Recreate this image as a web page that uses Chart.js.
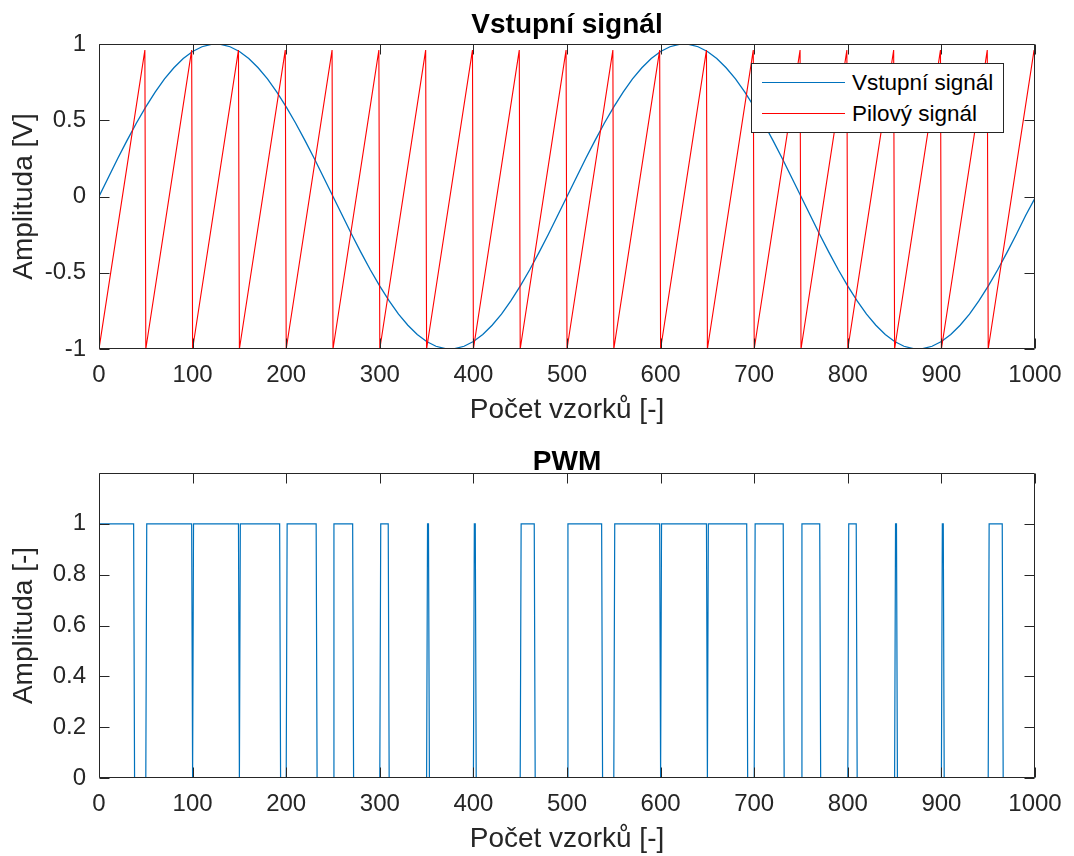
<!DOCTYPE html>
<html>
<head>
<meta charset="utf-8">
<script src="https://cdn.jsdelivr.net/npm/chart.js@4.4.1/dist/chart.umd.min.js"></script>
<style>
  html, body { margin:0; padding:0; background:#fff; overflow:hidden; width:1074px; height:856px; }
  #c1 { position:absolute; left:0; top:0; }
  #c2 { position:absolute; left:0; top:432px; }
  #legend { position:absolute; left:751px; top:63px; width:253px; height:70px; box-sizing:border-box;
            border:1px solid #262626; background:#fff; font-family:'Liberation Sans', Arial, sans-serif; font-size:22.5px; color:#000; }
  .row { position:absolute; left:0; height:30px; line-height:30px; width:100%; }
  .sw { position:absolute; left:10px; top:14px; width:83px; height:0; border-top-style:solid; border-top-width:1.5px; }
  .lbl { position:absolute; left:100px; top:0; white-space:nowrap; }
</style>
</head>
<body>
<canvas id="c1" width="1074" height="440"></canvas>
<canvas id="c2" width="1074" height="424"></canvas>
<div id="legend">
  <div class="row" style="top:4px"><div class="sw" style="border-top-color:#0072BD"></div><span class="lbl">Vstupní signál</span></div>
  <div class="row" style="top:35px"><div class="sw" style="border-top-color:#FF0000"></div><span class="lbl">Pilový signál</span></div>
</div>
<script>
// ---- data ----
const xTicks = [0, 100, 200, 300, 400, 500, 600, 700, 800, 900, 1000];
const yTicksTop = [-1, -0.5, 0, 0.5, 1];
const yTicksBottom = [0, 0.2, 0.4, 0.6, 0.8, 1];

const sineX = [0,10,20,30,40,50,60,70,80,90,100,110,120,130,140,150,160,170,180,190,200,210,220,230,240,250,
  260,270,280,290,300,310,320,330,340,350,360,370,380,390,400,410,420,430,440,450,460,470,480,490,500,
  510,520,530,540,550,560,570,580,590,600,610,620,630,640,650,660,670,680,690,700,710,720,730,740,750,
  760,770,780,790,800,810,820,830,840,850,860,870,880,890,900,910,920,930,940,950,960,970,980,990,1000];
const sineY = [0,0.125,0.249,0.368,0.482,0.588,0.685,0.771,0.844,0.905,0.951,0.982,0.998,0.998,0.982,0.951,0.905,0.844,0.771,0.685,0.588,0.482,0.368,0.249,0.125,0,
  -0.125,-0.249,-0.368,-0.482,-0.588,-0.685,-0.771,-0.844,-0.905,-0.951,-0.982,-0.998,-0.998,-0.982,-0.951,-0.905,-0.844,-0.771,-0.685,-0.588,-0.482,-0.368,-0.249,-0.125,0,
  0.125,0.249,0.368,0.482,0.588,0.685,0.771,0.844,0.905,0.951,0.982,0.998,0.998,0.982,0.951,0.905,0.844,0.771,0.685,0.588,0.482,0.368,0.249,0.125,0,
  -0.125,-0.249,-0.368,-0.482,-0.588,-0.685,-0.771,-0.844,-0.905,-0.951,-0.982,-0.998,-0.998,-0.982,-0.951,-0.905,-0.844,-0.771,-0.685,-0.588,-0.482,-0.368,-0.249,-0.125,-0.01];

const sawX = [0,49,50,99,100,149,150,199,200,249,250,299,300,349,350,399,400,449,450,499,
  500,549,550,599,600,649,650,699,700,749,750,799,800,849,850,899,900,949,950,999];
const sawY = [-1,0.96,-1,0.96,-1,0.96,-1,0.96,-1,0.96,-1,0.96,-1,0.96,-1,0.96,-1,0.96,-1,0.96,
  -1,0.96,-1,0.96,-1,0.96,-1,0.96,-1,0.96,-1,0.96,-1,0.96,-1,0.96,-1,0.96,-1,0.96];

const pwmX = [0,37,38,50,51,99,100,101,149,150,151,193,194,200,201,232,233,250,251,271,272,300,301,309,310,350,
  351,352,353,400,401,402,403,450,451,465,466,500,501,537,538,550,551,599,600,601,649,650,651,692,693,700,
  701,731,732,750,751,770,771,800,801,809,810,850,851,852,853,900,901,902,903,950,951,965,966,1000];
const pwmY = [1,1,0,0,1,1,0,1,1,0,1,1,0,0,1,1,0,0,1,1,0,0,1,1,0,0,
  1,1,0,0,1,1,0,0,1,1,0,0,1,1,0,0,1,1,0,1,1,0,1,1,0,0,
  1,1,0,0,1,1,0,0,1,1,0,0,1,1,0,0,1,1,0,0,1,1,0,0];

// ---- styling ----
const FONT = "'Liberation Sans', Arial, Helvetica, sans-serif";
const AX = '#262626';
const BLUE = '#0072BD';
const RED = '#FF0000';

const pts = (xs, ys) => xs.map((x, i) => ({ x: x, y: ys[i] }));

const frame = {
  id: 'frame',
  afterDatasetsDraw(chart) {
    const { ctx, chartArea } = chart;
    const xs = chart.scales.x, ys = chart.scales.y;
    const L = Math.round(chartArea.left) + 0.5, R = Math.round(chartArea.right) - 0.5;
    const T = Math.round(chartArea.top) + 0.5, B = Math.round(chartArea.bottom) - 0.5;
    const tl = 10;
    ctx.save();
    ctx.strokeStyle = AX; ctx.lineWidth = 1;
    ctx.beginPath();
    ctx.rect(L, T, R - L, B - T);
    xs.ticks.forEach(t => {
      const p = Math.round(xs.getPixelForValue(t.value)) + 0.5;
      ctx.moveTo(p, B); ctx.lineTo(p, B - tl);
      ctx.moveTo(p, T); ctx.lineTo(p, T + tl);
    });
    ys.ticks.forEach(t => {
      const p = Math.round(ys.getPixelForValue(t.value)) + 0.5;
      ctx.moveTo(L, p); ctx.lineTo(L + tl, p);
      ctx.moveTo(R, p); ctx.lineTo(R - tl, p);
    });
    ctx.stroke();
    ctx.restore();
  }
};

function makeChart(id, cfg) {
  return new Chart(document.getElementById(id), {
    type: 'line',
    data: { datasets: cfg.datasets },
    options: {
      responsive: false,
      animation: false,
      events: [],
      layout: { padding: { left: 0, right: 39, top: 0, bottom: 0 } },
      plugins: {
        legend: { display: false },
        tooltip: { enabled: false },
        title: {
          display: true, fullSize: false, text: cfg.title, color: '#000',
          font: { family: FONT, size: 28, weight: 'bold', lineHeight: cfg.titleLH },
          padding: cfg.titlePad
        }
      },
      scales: {
        x: {
          type: 'linear', min: 0, max: 1000,
          afterBuildTicks: s => { s.ticks = xTicks.map(v => ({ value: v })); },
          afterFit: s => { s.height = cfg.xHeight; },
          grid: { display: false, drawTicks: false },
          border: { display: false },
          ticks: { autoSkip: false, maxRotation: 0, padding: 12, color: AX,
                   font: { family: FONT, size: 24 }, callback: v => String(v) },
          title: { display: true, text: 'Počet vzorků [-]', color: AX,
                   font: { family: FONT, size: 28 }, padding: { top: 0, bottom: cfg.xTitleBottom } }
        },
        y: {
          type: 'linear', min: cfg.yMin, max: cfg.yMax,
          afterBuildTicks: s => { s.ticks = cfg.yTicks.map(v => ({ value: v })); },
          afterFit: s => { s.width = 99; },
          grid: { display: false, drawTicks: false },
          border: { display: false },
          ticks: { padding: 13, color: AX, font: { family: FONT, size: 24 }, callback: v => String(v) },
          title: { display: true, text: cfg.yTitle, color: AX,
                   font: { family: FONT, size: 28 }, padding: { top: 7, bottom: 0 } }
        }
      }
    },
    plugins: [frame]
  });
}

makeChart('c1', {
  title: 'Vstupní signál', titleLH: 1, titlePad: { top: 11, bottom: 5 },
  xHeight: 91, xTitleBottom: 13,
  yMin: -1, yMax: 1, yTicks: yTicksTop, yTitle: 'Amplituda [V]',
  datasets: [
    { label: 'Vstupní signál', data: pts(sineX, sineY), borderColor: BLUE, borderWidth: 1.3,
      pointRadius: 0, tension: 0, fill: false, order: 1 },
    { label: 'Pilový signál', data: pts(sawX, sawY), borderColor: RED, borderWidth: 1.1,
      pointRadius: 0, tension: 0, fill: false, order: 0 }
  ]
});

makeChart('c2', {
  title: 'PWM', titleLH: 0.8, titlePad: { top: 18.6, bottom: 0 },
  xHeight: 78, xTitleBottom: 0.2,
  yMin: 0, yMax: 1.2, yTicks: yTicksBottom, yTitle: 'Amplituda [-]',
  datasets: [
    { label: 'PWM', data: pts(pwmX, pwmY), borderColor: BLUE, borderWidth: 1.2,
      pointRadius: 0, tension: 0, fill: false }
  ]
});
</script>
</body>
</html>
